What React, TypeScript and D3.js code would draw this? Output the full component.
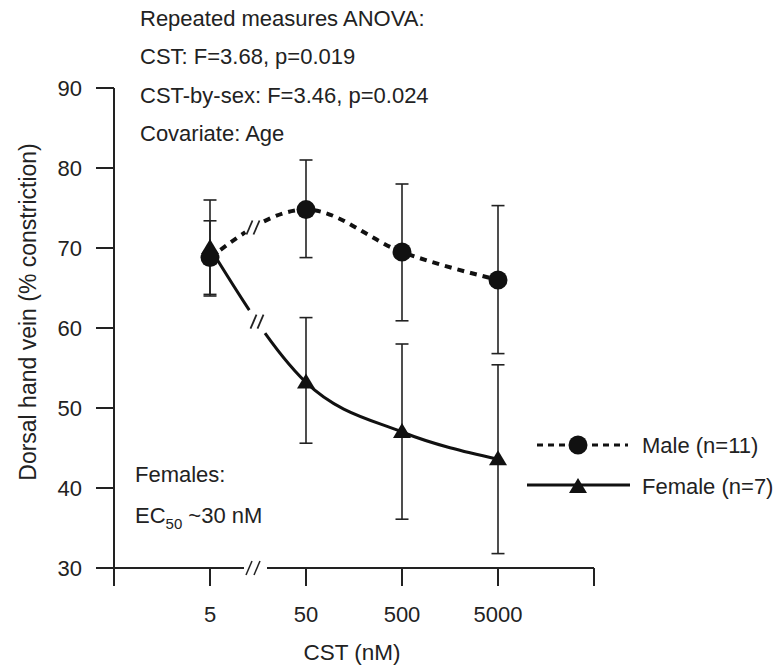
import React, { useEffect, useRef } from "react";
import * as d3 from "d3";

const categories = ["5", "50", "500", "5000"];
const maleMean = [68.8, 74.8, 69.5, 66.0];
const maleUpper = [73.4, 81.0, 78.0, 75.3];
const maleLower = [64.2, 68.8, 60.9, 56.8];
const femaleMean = [70.0, 53.2, 47.0, 43.6];
const femaleUpper = [76.0, 61.3, 58.0, 55.4];
const femaleLower = [64.0, 45.6, 36.1, 31.8];
const yTicks = [30, 40, 50, 60, 70, 80, 90];
const annotations = [
  "Repeated measures ANOVA:",
  "CST: F=3.68, p=0.019",
  "CST-by-sex: F=3.46, p=0.024",
  "Covariate: Age",
];
const legendLabels = ["Male (n=11)", "Female (n=7)"];

const FONT = "'Liberation Sans', Arial, Helvetica, sans-serif";

export default function App() {
  const ref = useRef<SVGSVGElement>(null);

  useEffect(() => {
    const svg = d3.select(ref.current);
    svg.selectAll("*").remove();

    const x = d3
      .scalePoint<string>()
      .domain(["start", ...categories, "end"])
      .range([114, 594]);
    const y = d3.scaleLinear().domain([30, 90]).range([568, 88]);

    const g = svg.append("g").attr("font-family", FONT).attr("fill", "#222");

    // annotations
    annotations.forEach((t, i) => {
      g.append("text")
        .attr("x", 140)
        .attr("y", 26 + i * 38.3)
        .attr("font-size", 22)
        .attr("fill", "#222")
        .text(t);
    });

    // y axis
    g.append("line")
      .attr("x1", 114).attr("x2", 114)
      .attr("y1", y(90)).attr("y2", y(30))
      .attr("stroke", "#222").attr("stroke-width", 2);
    yTicks.forEach((v) => {
      g.append("line")
        .attr("x1", 96).attr("x2", 114)
        .attr("y1", y(v)).attr("y2", y(v))
        .attr("stroke", "#222").attr("stroke-width", 2);
      g.append("text")
        .attr("x", 82).attr("y", y(v) + 8)
        .attr("text-anchor", "end")
        .attr("font-size", 22)
        .text(v);
    });
    g.append("text")
      .attr("transform", `translate(36, 312) rotate(-90)`)
      .attr("text-anchor", "middle")
      .attr("font-size", 23)
      .text("Dorsal hand vein (% constriction)");

    // x axis with break
    const gapL = 244, gapR = 267;
    g.append("line")
      .attr("x1", 114).attr("x2", gapL).attr("y1", 568).attr("y2", 568)
      .attr("stroke", "#222").attr("stroke-width", 2);
    g.append("line")
      .attr("x1", gapR).attr("x2", 594).attr("y1", 568).attr("y2", 568)
      .attr("stroke", "#222").attr("stroke-width", 2);
    [248, 256].forEach((bx) => {
      g.append("line")
        .attr("x1", bx - 2).attr("y1", 575).attr("x2", bx + 4).attr("y2", 561)
        .attr("stroke", "#222").attr("stroke-width", 1.5);
    });
    x.domain().forEach((d) => {
      g.append("line")
        .attr("x1", x(d)!).attr("x2", x(d)!)
        .attr("y1", 568).attr("y2", 586)
        .attr("stroke", "#222").attr("stroke-width", 2);
    });
    categories.forEach((c) => {
      g.append("text")
        .attr("x", x(c)!).attr("y", 622)
        .attr("text-anchor", "middle")
        .attr("font-size", 22)
        .text(c);
    });
    g.append("text")
      .attr("x", 352).attr("y", 660)
      .attr("text-anchor", "middle")
      .attr("font-size", 22.5)
      .text("CST (nM)");

    // Females annotation
    g.append("text").attr("x", 135).attr("y", 482).attr("font-size", 22).text("Females:");
    const ec = g.append("text").attr("x", 135).attr("y", 523).attr("font-size", 22);
    ec.append("tspan").text("EC");
    ec.append("tspan").attr("font-size", 15).attr("dy", 6).text("50");
    ec.append("tspan").attr("dy", -6).text(" ~30 nM");

    // error bars
    const drawErr = (up: number[], lo: number[]) => {
      categories.forEach((c, i) => {
        const cx = x(c)!;
        g.append("line")
          .attr("x1", cx).attr("x2", cx)
          .attr("y1", y(up[i])).attr("y2", y(lo[i]))
          .attr("stroke", "#222").attr("stroke-width", 1.6);
        [up[i], lo[i]].forEach((v) => {
          g.append("line")
            .attr("x1", cx - 6.5).attr("x2", cx + 6.5)
            .attr("y1", y(v)).attr("y2", y(v))
            .attr("stroke", "#222").attr("stroke-width", 1.6);
        });
      });
    };
    drawErr(maleUpper, maleLower);
    drawErr(femaleUpper, femaleLower);

    // lines
    const line = d3
      .line<number>()
      .x((_, i) => x(categories[i])!)
      .y((d) => y(d))
      .curve(d3.curveMonotoneX);

    const malePath = g.append("path")
      .attr("d", line(maleMean))
      .attr("fill", "none").attr("stroke", "#111")
      .attr("stroke-width", 4).attr("stroke-dasharray", "7,6");
    const femalePath = g.append("path")
      .attr("d", line(femaleMean))
      .attr("fill", "none").attr("stroke", "#111")
      .attr("stroke-width", 3);

    // break marks on lines
    const breakAt = (pathSel: any, bx: number, half: number) => {
      const node = pathSel.node() as SVGPathElement;
      const total = node.getTotalLength();
      let lo = 0, hi = total;
      for (let k = 0; k < 40; k++) {
        const mid = (lo + hi) / 2;
        if (node.getPointAtLength(mid).x < bx) lo = mid; else hi = mid;
      }
      const p = node.getPointAtLength(lo);
      const p2 = node.getPointAtLength(Math.min(total, lo + 1));
      const ang = Math.atan2(p2.y - p.y, p2.x - p.x);
      const ux = Math.cos(ang), uy = Math.sin(ang);
      g.append("line")
        .attr("x1", p.x - ux * half).attr("y1", p.y - uy * half)
        .attr("x2", p.x + ux * half).attr("y2", p.y + uy * half)
        .attr("stroke", "white").attr("stroke-width", 8);
      [-3.5, 3.5].forEach((o) => {
        const cx = p.x + o, cy = p.y;
        g.append("line")
          .attr("x1", cx - 3).attr("y1", cy + 7)
          .attr("x2", cx + 3).attr("y2", cy - 7)
          .attr("stroke", "#222").attr("stroke-width", 1.8);
      });
    };
    breakAt(malePath, 253, 9);
    breakAt(femalePath, 257, 14);

    // markers
    const tri = "M0,-9L9,6L-9,6Z";
    categories.forEach((c, i) => {
      g.append("circle")
        .attr("cx", x(c)!).attr("cy", y(maleMean[i]))
        .attr("r", 9.5).attr("fill", "#111");
      g.append("path")
        .attr("d", tri)
        .attr("transform", `translate(${x(c)},${y(femaleMean[i])})`)
        .attr("fill", "#111");
    });

    // legend
    g.append("line")
      .attr("x1", 537).attr("x2", 628).attr("y1", 445).attr("y2", 445)
      .attr("stroke", "#111").attr("stroke-width", 3).attr("stroke-dasharray", "6,5");
    g.append("circle").attr("cx", 578).attr("cy", 445).attr("r", 9.5).attr("fill", "#111");
    g.append("text").attr("x", 642).attr("y", 453).attr("font-size", 22).text(legendLabels[0]);
    g.append("line")
      .attr("x1", 527).attr("x2", 630).attr("y1", 485).attr("y2", 485)
      .attr("stroke", "#111").attr("stroke-width", 3);
    g.append("path").attr("d", tri).attr("transform", "translate(578,487)").attr("fill", "#111");
    g.append("text").attr("x", 642).attr("y", 494).attr("font-size", 22).text(legendLabels[1]);
  }, []);

  return (
    <svg
      ref={ref}
      width={778}
      height={667}
      style={{ position: "absolute", left: 0, top: 0, background: "white" }}
    />
  );
}
